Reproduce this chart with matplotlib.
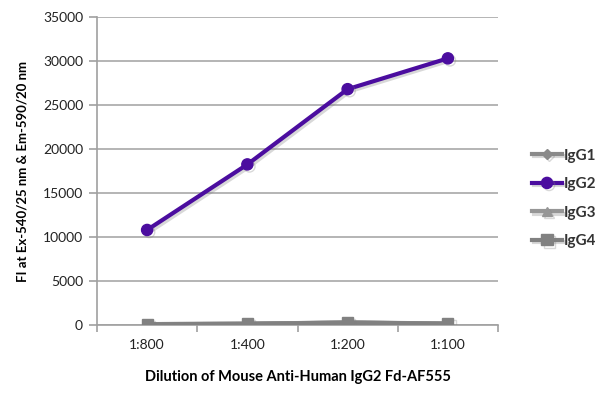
import matplotlib
matplotlib.use("Agg")
import matplotlib.pyplot as plt
import matplotlib.patheffects as pe

plt.rcParams['font.family'] = ['Lato', 'DejaVu Sans']

# data
dilutions = ["1:800", "1:400", "1:200", "1:100"]
igg1 = [100, 150, 280, 160]
igg2 = [10800, 18250, 26800, 30300]
igg3 = [100, 150, 290, 170]
igg4 = [80, 130, 270, 150]

yticks = [0, 5000, 10000, 15000, 20000, 25000, 30000, 35000]

fig = plt.figure(figsize=(6.0, 3.97), dpi=100)
ax = fig.add_axes([97/600, 72/397, 401/600, 308/397])

shadow = [pe.SimpleLineShadow(offset=(1.5, -1.5), alpha=0.3, shadow_color='gray'), pe.Normal()]

x = range(len(dilutions))
ax.plot(x, igg1, color='#8a8a8a', marker='D', markersize=5, lw=3, label='IgG1', path_effects=shadow, zorder=3)
ax.plot(x, igg2, color='#4b0d9f', marker='o', markersize=8, lw=3, label='IgG2', path_effects=shadow, zorder=4)
ax.plot(x, igg3, color='#969696', marker='^', markersize=7, lw=3, label='IgG3', path_effects=shadow, zorder=3)
ax.plot(x, igg4, color='#818181', marker='s', markersize=8, lw=3, label='IgG4', path_effects=shadow, zorder=3)

ax.set_xlim(-0.5, len(dilutions) - 0.5)
ax.set_ylim(0, 35000)
ax.set_yticks(yticks)
ax.set_yticklabels([str(v) for v in yticks], fontsize=10, color='#222222')
ax.set_xticks(list(x))
ax.set_xticklabels(dilutions, fontsize=10, color='#222222')
ax.set_xticks([i + 0.5 for i in range(-1, len(dilutions))], minor=True)

ax.yaxis.grid(True, color='#a8a8a8', lw=1.2)
ax.set_axisbelow(True)
for s in ['top', 'right']:
    ax.spines[s].set_visible(False)
for s in ['left', 'bottom']:
    ax.spines[s].set_color('#a0a0a0')
    ax.spines[s].set_linewidth(1.2)
ax.tick_params(axis='y', length=6, color='#a0a0a0', width=1.2, pad=4)
ax.tick_params(axis='x', which='major', length=0, pad=10)
ax.tick_params(axis='x', which='minor', length=5, color='#a0a0a0', width=1.2)

ax.set_ylabel('FI at Ex-540/25 nm & Em-590/20 nm', fontsize=9.5, fontweight='bold', labelpad=10)
ax.set_xlabel('Dilution of Mouse Anti-Human IgG2 Fd-AF555', fontsize=10.5, fontweight='bold', labelpad=14)

leg = ax.legend(loc='upper left', bbox_to_anchor=(518/600, 262/397), bbox_transform=fig.transFigure,
                frameon=False, handlelength=2.0, handletextpad=0.1, labelspacing=0.95,
                prop={'weight': 'bold', 'size': 11})
for t in leg.get_texts():
    t.set_color('#333333')

fig.savefig('out.png', dpi=100)
